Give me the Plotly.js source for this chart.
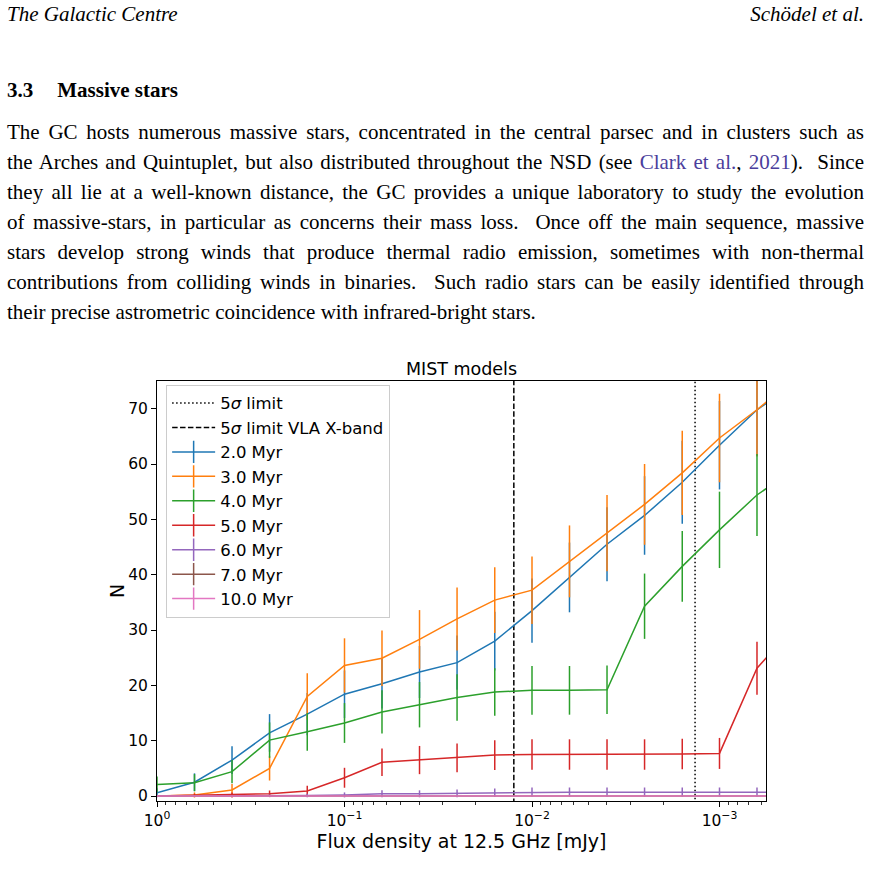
<!DOCTYPE html>
<html>
<head>
<meta charset="utf-8">
<script src="https://cdn.plot.ly/plotly-3.0.1.min.js"></script>
<style>
  html, body { margin:0; padding:0; background:#fff; }
  body { width:871px; height:887px; position:relative; overflow:hidden;
         font-family:"Liberation Serif","Times New Roman",serif; color:#000; }
  .ln { position:absolute; left:7px; white-space:nowrap; font-size:21px; line-height:30px; }
  .hdr { font-style:italic; }
  .sec { font-weight:bold; }
  .lnk { color:#4b3e9c; }
  #chart { position:absolute; left:0; top:340px; width:871px; height:540px; }
</style>
</head>
<body>
<div class="ln hdr" style="top:-1px">The Galactic Centre</div>
<div class="ln hdr" style="top:-1px; left:auto; right:7px">Schödel et al.</div>
<div class="ln sec" style="top:75px">3.3<span style="display:inline-block;width:24px"></span>Massive stars</div>

<div class="ln j" style="top:117px"><span class="t">The GC hosts numerous massive stars, concentrated in the central parsec and in clusters such as</span></div>
<div class="ln j" style="top:147px"><span class="t">the Arches and Quintuplet, but also distributed throughout the NSD (see <span class="lnk">Clark et al.</span>, <span class="lnk">2021</span>).&nbsp; Since</span></div>
<div class="ln j" style="top:177px"><span class="t">they all lie at a well-known distance, the GC provides a unique laboratory to study the evolution</span></div>
<div class="ln j" style="top:207px"><span class="t">of massive-stars, in particular as concerns their mass loss.&nbsp; Once off the main sequence, massive</span></div>
<div class="ln j" style="top:237px"><span class="t">stars develop strong winds that produce thermal radio emission, sometimes with non-thermal</span></div>
<div class="ln j" style="top:267px"><span class="t">contributions from colliding winds in binaries.&nbsp; Such radio stars can be easily identified through</span></div>
<div class="ln" style="top:297px"><span class="t">their precise astrometric coincidence with infrared-bright stars.</span></div>

<div id="chart"></div>

<script>
// ---------------- data ----------------
const flux = [1, 0.631, 0.398, 0.251, 0.158, 0.1, 0.0631, 0.0398, 0.0251, 0.0158,
              0.01, 0.00631, 0.00398, 0.00251, 0.00158, 0.001, 0.000631, 0.000398];

const n2  = [0.6, 2.5, 6.5, 11.4, 14.8, 18.4, 20.3, 22.4, 24.1, 28.0, 33.5, 39.5, 45.5, 50.7, 56.7, 63.4, 69.8, 74.5];
const e2  = [0.8, 1.6, 2.5, 3.4, 3.8, 4.3, 4.5, 4.7, 4.9, 5.3, 5.8, 6.3, 6.7, 7.1, 7.5, 8.0, 8.4, 8.6];

const n3  = [0.0, 0.2, 1.1, 5.0, 18.0, 23.6, 24.9, 28.3, 32.0, 35.4, 37.2, 42.4, 47.5, 52.7, 58.4, 64.7, 69.8, 75.4];
const e3  = [0.0, 0.45, 1.05, 2.2, 4.2, 4.9, 5.0, 5.3, 5.7, 5.95, 6.1, 6.5, 6.9, 7.3, 7.6, 8.0, 8.4, 8.7];

const n4  = [2.1, 2.4, 4.4, 10.1, 11.6, 13.2, 15.2, 16.5, 17.8, 18.8, 19.1, 19.1, 19.2, 34.3, 41.5, 48.1, 54.4, 59.1];
const e4  = [1.45, 1.55, 2.1, 3.2, 3.4, 3.6, 3.9, 4.1, 4.2, 4.3, 4.4, 4.4, 4.4, 5.9, 6.4, 6.9, 7.4, 7.7];

const n5  = [0.0, 0.1, 0.2, 0.4, 0.9, 3.3, 6.1, 6.5, 6.9, 7.4, 7.5, 7.5, 7.5, 7.5, 7.6, 7.7, 23.1, 30.6];
const e5  = [0.0, 0.3, 0.45, 0.6, 0.95, 1.8, 2.5, 2.55, 2.6, 2.7, 2.75, 2.75, 2.75, 2.75, 2.75, 2.8, 4.8, 5.5];

const n6  = [0.0, 0.0, 0.0, 0.05, 0.1, 0.2, 0.4, 0.4, 0.5, 0.6, 0.7, 0.7, 0.7, 0.7, 0.7, 0.7, 0.7, 0.7];
const e6  = [0.0, 0.0, 0.0, 0.22, 0.3, 0.45, 0.63, 0.63, 0.7, 0.77, 0.84, 0.84, 0.84, 0.84, 0.84, 0.84, 0.84, 0.84];

const n7  = [0, 0, 0, 0, 0, 0, 0, 0, 0, 0, 0, 0, 0, 0, 0, 0, 0, 0];
const e7  = [0, 0, 0, 0, 0, 0, 0, 0, 0, 0, 0, 0, 0, 0, 0, 0, 0, 0];

const n10 = [0, 0, 0, 0, 0, 0, 0, 0, 0, 0, 0, 0, 0, 0, 0, 0, 0, 0];
const e10 = [0, 0, 0, 0, 0, 0, 0, 0, 0, 0, 0, 0, 0, 0, 0, 0, 0, 0];

const ageLabels = ['2.0 Myr', '3.0 Myr', '4.0 Myr', '5.0 Myr', '6.0 Myr', '7.0 Myr', '10.0 Myr'];
const limitLabels = ['5<i>σ</i> limit', '5<i>σ</i> limit VLA X-band'];
const limitFlux = [0.00135, 0.0125];

const xTickVals = [1, 0.1, 0.01, 0.001];
const xTickText = ['10<sup>0</sup>', '10<sup>−1</sup>', '10<sup>−2</sup>', '10<sup>−3</sup>'];
const yTickVals = [0, 10, 20, 30, 40, 50, 60, 70];

// ---------------- build ----------------
const series = [[n2, e2], [n3, e3], [n4, e4], [n5, e5], [n6, e6], [n7, e7], [n10, e10]];
const colors = ['#1f77b4', '#ff7f0e', '#2ca02c', '#d62728', '#9467bd', '#8c564b', '#e377c2'];

const traces = [];
const dashes = ['1.5px,2.5px', '5.5px,2.4px'];
limitLabels.forEach((lab, i) => {
  traces.push({
    x: [limitFlux[i], limitFlux[i]], y: [-10, 100], mode: 'lines', name: lab,
    line: { color: '#000', width: 1.5, dash: dashes[i] }, hoverinfo: 'skip'
  });
});
series.forEach(([n, e], i) => {
  traces.push({
    x: flux, y: n, mode: 'lines', showlegend: false, name: ageLabels[i],
    line: { color: colors[i], width: 1.5 },
    error_y: { type: 'data', array: e, visible: true, color: colors[i], thickness: 1.5, width: 0 }
  });
});
series.forEach((s, i) => {
  traces.push({
    x: [null], y: [null], mode: 'lines+markers', name: ageLabels[i],
    line: { color: colors[i], width: 1.5 },
    marker: { symbol: 'line-ns-open', size: 18, color: colors[i], line: { width: 1.5, color: colors[i] } }
  });
});

// minor log ticks (2..9 per decade)
const minorVals = [];
[1, 0.1, 0.01, 0.001].forEach(d => { for (let m = 2; m <= 9; m++) minorVals.push(m * d / 10); });

const layout = {
  width: 871, height: 540,
  margin: { l: 157, r: 105, t: 41, b: 79, pad: 0 },
  paper_bgcolor: 'rgba(0,0,0,0)', plot_bgcolor: '#fff',
  font: { family: 'DejaVu Sans', size: 15.5, color: '#000' },
  title: { text: 'MIST models', font: { size: 17.5, color: '#000' },
           x: 0.5, xref: 'paper', xanchor: 'center', y: 1, yref: 'paper', yanchor: 'bottom', pad: { b: 6 } },
  showlegend: true,
  legend: { x: 0.015, y: 0.991, xanchor: 'left', yanchor: 'top',
            bgcolor: 'rgba(255,255,255,0.8)', bordercolor: '#cccccc', borderwidth: 1,
            font: { size: 16.5, color: '#000' }, itemwidth: 43, traceorder: 'normal' },
  annotations: [{
    text: 'N', xref: 'paper', yref: 'paper', x: -40 / 609, y: 0.5,
    xanchor: 'center', yanchor: 'middle', textangle: -90, showarrow: false,
    font: { size: 19, color: '#000' }
  }],
  xaxis: {
    type: 'log', range: [0, -3.248], autorange: false,
    tickmode: 'array', tickvals: xTickVals, ticktext: xTickText,
    ticks: 'outside', ticklen: 5, tickwidth: 1, tickcolor: '#000',
    tickfont: { size: 15.5 },
    minor: { tickmode: 'array', tickvals: minorVals.filter(v => v >= 0.00056), ticks: 'outside', ticklen: 3, tickwidth: 0.8, tickcolor: '#000', showgrid: false },
    showgrid: false, zeroline: false,
    showline: true, linecolor: '#000', linewidth: 1, mirror: true,
    title: { text: 'Flux density at 12.5 GHz [mJy]', font: { size: 19 }, standoff: 5 }
  },
  yaxis: {
    range: [-0.9, 75], autorange: false,
    tickmode: 'array', tickvals: yTickVals,
    ticks: 'outside', ticklen: 5, tickwidth: 1, tickcolor: '#000',
    tickfont: { size: 15.5 },
    showgrid: false, zeroline: false,
    showline: true, linecolor: '#000', linewidth: 1, mirror: true
  }
};

Plotly.newPlot('chart', traces, layout, { staticPlot: true, displayModeBar: false });

// ---------------- justify paragraph lines ----------------
function justify() {
  const target = 857;
  document.querySelectorAll('.j span.t').forEach(s => {
    s.style.wordSpacing = '0px';
    const w = s.getBoundingClientRect().width;
    const n = (s.textContent.match(/[ \u00a0]/g) || []).length;
    if (w <= target) {
      s.style.wordSpacing = ((target - w) / n) + 'px';
    } else {
      s.style.display = 'inline-block';
      s.style.transformOrigin = '0 0';
      s.style.transform = 'scaleX(' + (target / w) + ')';
    }
  });
}
if (document.fonts && document.fonts.ready) document.fonts.ready.then(justify); else justify();
</script>
</body>
</html>
